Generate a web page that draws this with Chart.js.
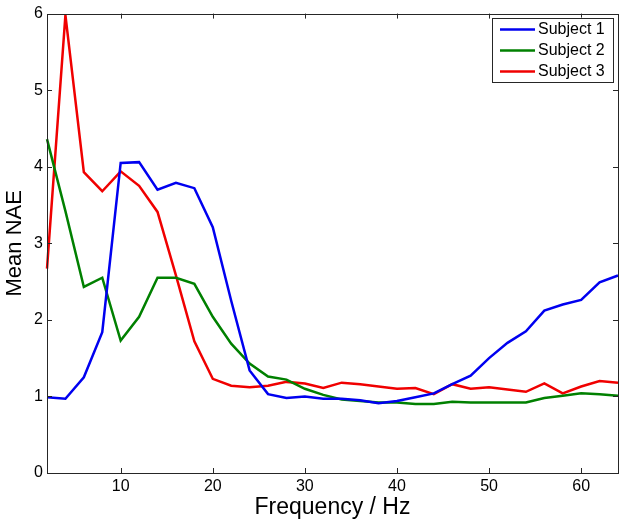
<!DOCTYPE html>
<html>
<head>
<meta charset="utf-8">
<script src="https://cdn.jsdelivr.net/npm/chart.js@4/dist/chart.umd.min.js"></script>
<style>
    html, body { margin: 0; padding: 0; background: #fff; }
    #wrap { width: 630px; height: 529px; }
</style>
</head>
<body>
<div id="wrap"><canvas id="naeChart" width="630" height="529"></canvas></div>
<script>

const frequencies = [2, 4, 6, 8, 10, 12, 14, 16, 18, 20, 22, 24, 26, 28, 30, 32,
    34, 36, 38, 40, 42, 44, 46, 48, 50, 52, 54, 56, 58, 60, 62, 64];

const subject1 = [0.99, 0.97, 1.25, 1.84, 4.05, 4.06, 3.70, 3.79, 3.72, 3.21, 2.25, 1.34, 1.03, 0.98, 1.00, 0.97,
    0.97, 0.95, 0.91, 0.94, 0.99, 1.04, 1.16, 1.27, 1.50, 1.70, 1.85, 2.12, 2.20, 2.26, 2.49, 2.58];

const subject2 = [4.36, 3.42, 2.43, 2.55, 1.73, 2.04, 2.55, 2.55, 2.47, 2.04, 1.69, 1.43, 1.26, 1.22, 1.10, 1.02,
    0.96, 0.94, 0.92, 0.92, 0.90, 0.90, 0.93, 0.92, 0.92, 0.92, 0.92, 0.98, 1.01, 1.04, 1.03, 1.01];

const subject3 = [2.67, 5.98, 3.93, 3.68, 3.94, 3.75, 3.41, 2.58, 1.72, 1.23, 1.14, 1.12, 1.14, 1.19, 1.17, 1.11,
    1.18, 1.16, 1.13, 1.10, 1.11, 1.03, 1.16, 1.10, 1.12, 1.09, 1.06, 1.17, 1.04, 1.13, 1.20, 1.18];

const seriesLabels = ['Subject 1', 'Subject 2', 'Subject 3'];
const xTickValues = [10, 20, 30, 40, 50, 60];
const yTickValues = [0, 1, 2, 3, 4, 5, 6];

const FONT = "'Liberation Sans', Arial, Helvetica, sans-serif";
const AXIS_COLOR = '#262626';

const toPoints = (values) => values.map((v, i) => ({ x: frequencies[i], y: v }));


// box round the plot plus matlab style inward ticks on all four sides
const boxAndTicks = {
    id: 'boxAndTicks',
    afterDatasetsDraw(chart) {
        const { ctx, chartArea: area, scales: { x, y } } = chart;
        const len = 5;
        ctx.save();
        ctx.strokeStyle = AXIS_COLOR;
        ctx.lineWidth = 1;
        ctx.beginPath();
        xTickValues.forEach(v => {
            const px = Math.round(x.getPixelForValue(v)) + 0.5;
            ctx.moveTo(px, area.bottom);
            ctx.lineTo(px, area.bottom - len);
            ctx.moveTo(px, area.top);
            ctx.lineTo(px, area.top + len);
        });
        yTickValues.forEach(v => {
            const py = Math.round(y.getPixelForValue(v)) + 0.5;
            ctx.moveTo(area.left, py);
            ctx.lineTo(area.left + len, py);
            ctx.moveTo(area.right, py);
            ctx.lineTo(area.right - len, py);
        });
        ctx.stroke();
        ctx.strokeRect(Math.round(area.left) + 0.5, Math.round(area.top) + 0.5,
            Math.round(area.right - area.left), Math.round(area.bottom - area.top));
        ctx.restore();
    }
};


// legend box in the top right corner of the axes
const boxLegend = {
    id: 'boxLegend',
    afterDraw(chart) {
        const { ctx, chartArea: area } = chart;
        const w = 121, h = 64;
        const bx = area.right - 5 - w;
        const by = area.top + 4;
        ctx.save();
        ctx.fillStyle = '#fff';
        ctx.fillRect(bx, by, w, h);
        ctx.strokeStyle = AXIS_COLOR;
        ctx.lineWidth = 1;
        ctx.strokeRect(Math.round(bx) + 0.5, Math.round(by) + 0.5, w, h);
        ctx.font = '16px ' + FONT;
        ctx.textBaseline = 'middle';
        ctx.fillStyle = '#000';
        chart.data.datasets.forEach((ds, i) => {
            const rowY = by + 12 + i * 21;
            ctx.strokeStyle = ds.borderColor;
            ctx.lineWidth = ds.borderWidth;
            ctx.beginPath();
            ctx.moveTo(bx + 8, rowY);
            ctx.lineTo(bx + 43, rowY);
            ctx.stroke();
            ctx.fillText(ds.label, bx + 46, rowY);
        });
        ctx.restore();
    }
};


const ctx = document.getElementById('naeChart').getContext('2d');
const naeChart = new Chart(ctx, {
    type: 'line',
    data: {
        datasets: [{
            label: seriesLabels[0],
            data: toPoints(subject1),
            borderColor: '#0000f0',
            borderWidth: 2.5
        }, {
            label: seriesLabels[1],
            data: toPoints(subject2),
            borderColor: '#008000',
            borderWidth: 2.5
        }, {
            label: seriesLabels[2],
            data: toPoints(subject3),
            borderColor: '#f00000',
            borderWidth: 2.5
        }]
    },
    options: {
        responsive: false,
        animation: false,
        devicePixelRatio: 1,
        clip: false,
        layout: {
            padding: { left: 0, right: 12, top: 13, bottom: 0 }
        },
        elements: {
            point: { radius: 0 },
            line: { tension: 0, borderJoinStyle: 'miter' }
        },
        plugins: {
            legend: { display: false },
            tooltip: { enabled: false }
        },
        scales: {
            x: {
                type: 'linear',
                min: 2,
                max: 64,
                afterBuildTicks: (scale) => {
                    scale.ticks = xTickValues.map(v => ({ value: v }));
                },
                afterFit: (scale) => { scale.height = 56; },
                grid: { display: false, drawTicks: false },
                border: { display: false },
                ticks: {
                    padding: 4,
                    maxRotation: 0,
                    color: '#000',
                    font: { family: FONT, size: 16 }
                },
                title: {
                    display: true,
                    text: 'Frequency / Hz',
                    color: '#000',
                    font: { family: FONT, size: 23 },
                    padding: { top: 0, bottom: 8 }
                }
            },
            y: {
                min: 0,
                max: 6,
                afterBuildTicks: (scale) => {
                    scale.ticks = yTickValues.map(v => ({ value: v }));
                },
                afterFit: (scale) => { scale.width = 47; },
                grid: { display: false, drawTicks: false },
                border: { display: false },
                ticks: {
                    padding: 4,
                    color: '#000',
                    font: { family: FONT, size: 16 }
                },
                title: {
                    display: true,
                    text: 'Mean NAE',
                    color: '#000',
                    font: { family: FONT, size: 22 },
                    padding: { top: 2, bottom: 0 }
                }
            }
        }
    },
    plugins: [boxAndTicks, boxLegend]
});
</script>
</body>
</html>
